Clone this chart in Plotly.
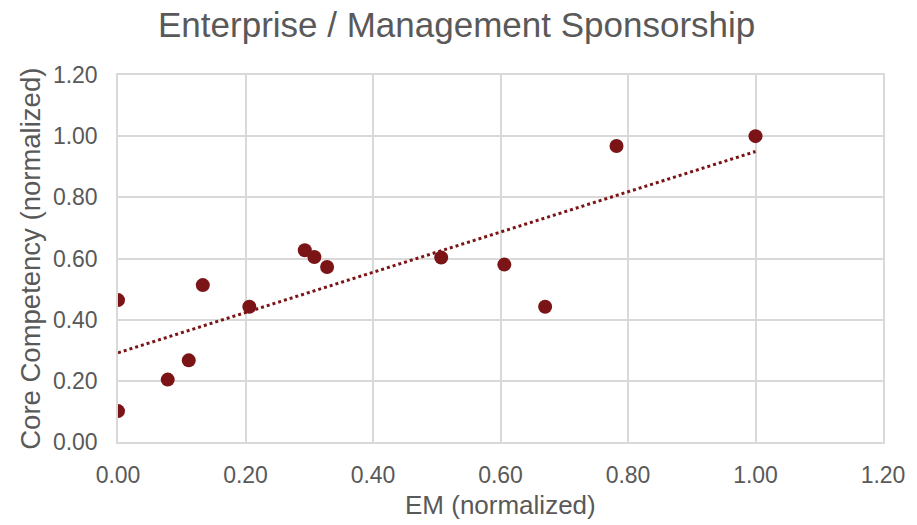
import numpy as np
import plotly.graph_objects as go

em = [0.0, 0.0, 0.078, 0.111, 0.133, 0.206, 0.293, 0.308, 0.328, 0.507, 0.606, 0.670, 0.782, 1.0]
core = [0.464, 0.101, 0.204, 0.267, 0.513, 0.442, 0.627, 0.605, 0.572, 0.603, 0.580, 0.442, 0.968, 1.0]

RED = '#7B1416'
GREY = '#595959'
GRID = '#d9d9d9'

# linear trendline like excel
slope, icept = np.polyfit(em, core, 1)
tx = [min(em), max(em)]
ty = [icept + slope * v for v in tx]

fig = go.Figure()
fig.add_trace(go.Scatter(x=tx, y=ty, mode='lines',
                         line=dict(color=RED, width=3, dash='dot'),
                         hoverinfo='skip', showlegend=False))
fig.add_trace(go.Scatter(x=em, y=core, mode='markers',
                         marker=dict(color=RED, size=14),
                         showlegend=False))

axis = dict(range=[0, 1.2], dtick=0.2, tickformat='.2f', showgrid=True,
            gridcolor=GRID, gridwidth=1.5, zeroline=False, showline=True,
            linecolor=GRID, linewidth=1.5, mirror=True, ticks='',
            tickfont=dict(size=23, color=GREY))

fig.update_layout(
    width=917, height=525,
    margin=dict(l=118, r=32, t=75, b=83),
    paper_bgcolor='white', plot_bgcolor='white',
    font=dict(family='Liberation Sans, Arial, sans-serif', color=GREY),
    title=dict(text='Enterprise / Management Sponsorship', x=0.498, xanchor='center',
               y=0.953, yanchor='middle', font=dict(size=35, color=GREY)),
    xaxis=dict(axis, ticklabelstandoff=12),
    yaxis=dict(axis, ticklabelstandoff=14),
)

fig.add_annotation(text='EM (normalized)', xref='paper', yref='paper',
                   x=0.5, y=-0.172, xanchor='center', yanchor='middle',
                   showarrow=False, font=dict(size=26, color=GREY))
fig.add_annotation(text='Core Competency (normalized)', xref='paper', yref='paper',
                   x=-0.1147, y=0.5, xanchor='center', yanchor='middle', textangle=-90,
                   showarrow=False, font=dict(size=27.5, color=GREY))

# drop the default 8px body margin so the figure sits at the page corner
fig.write_html("out.html", config={'displayModeBar': False},
               post_script="document.body.style.margin='0';")
